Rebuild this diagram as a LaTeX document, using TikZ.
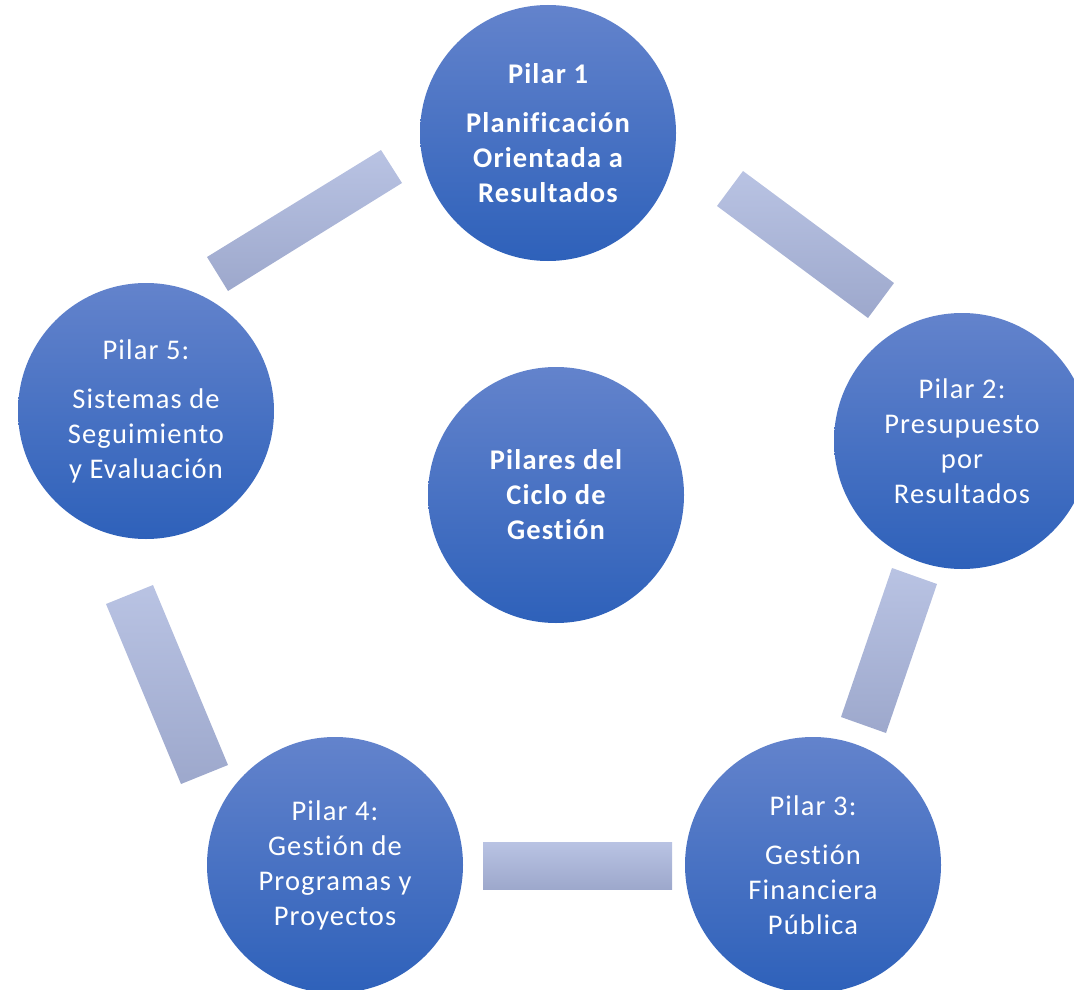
\documentclass[tikz,border=0pt]{standalone}
\usepackage{fontspec}
\setmainfont{Carlito}[LetterSpace=4,Ligatures=NoCommon]
\begin{document}
\begin{tikzpicture}[x=1pt,y=-1pt]
\definecolor{ctop}{RGB}{99,131,204}
\definecolor{cbot}{RGB}{46,97,186}
\definecolor{btop}{RGB}{185,195,227}
\definecolor{bbot}{RGB}{157,168,204}
\tikzset{
  pillar/.style={circle, minimum size=256pt, inner sep=0pt, top color=ctop, bottom color=cbot,
    draw=none, text=white, align=center, font=\fontsize{28.5}{35}\selectfont},
  boldpillar/.style={pillar, font=\fontsize{28.5}{35}\selectfont\bfseries},
  bar/.style={top color=btop, bottom color=bbot, draw=none}
}
\useasboundingbox (0,0) rectangle (1074,990);
\clip (0,0) rectangle (1074,990);
% bars
\coordinate (a1) at (381,150); \coordinate (a2) at (402,183); \coordinate (a3) at (228,291); \coordinate (a4) at (207,257);
\shade[bar] (a1) -- (a2) -- (a3) -- (a4) -- cycle;
\coordinate (b1) at (743,171); \coordinate (b2) at (894,283); \coordinate (b3) at (868,318); \coordinate (b4) at (717,206);
\shade[bar] (b1) -- (b2) -- (b3) -- (b4) -- cycle;
\coordinate (c1) at (892,568); \coordinate (c2) at (937,584); \coordinate (c3) at (886,733); \coordinate (c4) at (841,717);
\shade[bar] (c1) -- (c2) -- (c3) -- (c4) -- cycle;
\coordinate (d1) at (483,842); \coordinate (d2) at (672,889);
\shade[bar] (d1) rectangle (d2);
\coordinate (e1) at (106,604); \coordinate (e2) at (153,585); \coordinate (e3) at (228,765); \coordinate (e4) at (181,784);
\shade[bar] (e1) -- (e2) -- (e3) -- (e4) -- cycle;
% circles
\node[boldpillar] (p1) at (548,133) {Pilar 1\\[14pt]Planificación\\Orientada a\\Resultados};
\node[pillar] (p2) at (962,441) {Pilar 2:\\Presupuesto\\por\\Resultados};
\node[pillar] (p3) at (813,865) {Pilar 3:\\[14pt]Gestión\\Financiera\\Pública};
\node[pillar] (p4) at (335,865) {Pilar 4:\\Gestión de\\Programas y\\Proyectos};
\node[pillar] (p5) at (146,411) {Pilar 5:\\[14pt]Sistemas de\\Seguimiento\\y Evaluación};
\node[boldpillar] (c) at (556,495) {Pilares del\\Ciclo de\\Gestión};
\end{tikzpicture}
\end{document}
